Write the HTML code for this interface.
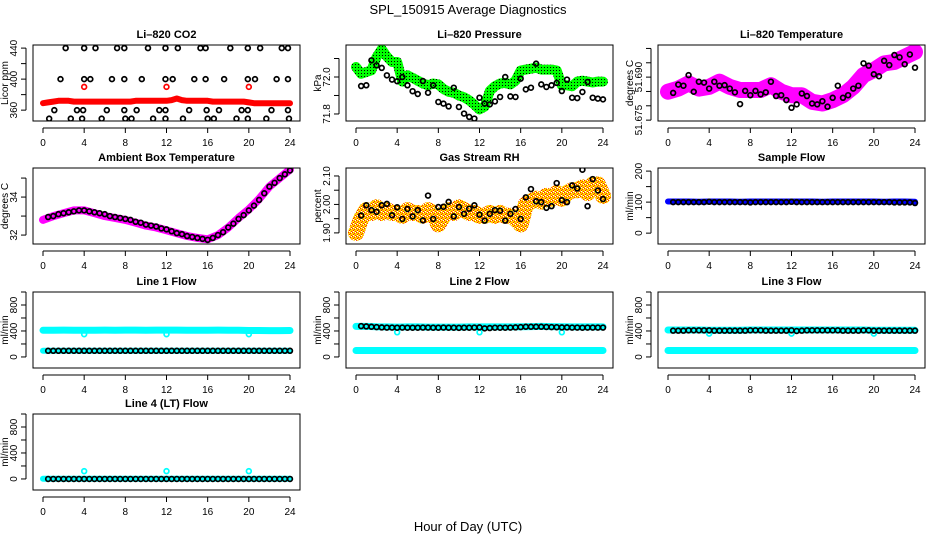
<!DOCTYPE html>
<html><head><meta charset="utf-8"><style>
html,body{margin:0;padding:0;background:#fff;}
svg{display:block;font-family:"Liberation Sans",sans-serif;}
</style></head><body>
<svg id="chart" width="936" height="540" viewBox="0 0 936 540">
<defs>
<pattern id="greenPat" width="3" height="3" patternUnits="userSpaceOnUse"><rect width="3" height="3" fill="#00ff00"/><rect x="1" y="1" width="1" height="1" fill="#000"/></pattern>
<pattern id="orangePat" width="4" height="4" patternUnits="userSpaceOnUse"><rect width="4" height="4" fill="#ffd400"/><rect x="0" y="0" width="1" height="1" fill="#ff2200"/><rect x="2" y="1" width="1" height="1" fill="#ff3300"/><rect x="1" y="2" width="1" height="1" fill="#ff2200"/><rect x="3" y="3" width="1" height="1" fill="#ff3300"/><rect x="3" y="0" width="1" height="1" fill="#ffffff"/><rect x="1" y="3" width="1" height="1" fill="#ffffff"/></pattern>
</defs>
<text x="468" y="14" text-anchor="middle" font-size="13">SPL_150915  Average Diagnostics</text>
<text x="468" y="531" text-anchor="middle" font-size="13">Hour of Day (UTC)</text>
</svg>
<script>
// ---------- data ----------
const xTicks = [0,4,8,12,16,20,24];
const xTickLabels = ["0","4","8","12","16","20","24"];
// CO2
const co2RedHours = [0,0.5,1,1.5,2,2.5,3,3.5,4,4.5,5,5.5,6,6.5,7,7.5,8,8.5,9,9.5,10,10.5,11,11.5,12,12.5,13,13.5,14,14.5,15,15.5,16,16.5,17,17.5,18,18.5,19,19.5,20,20.5,21,21.5,22,22.5,23,23.5,24];
const co2Red = [369,370,371,372,372,372,371,371,371,371,371,371,371,371,371,371,371,371,372,372,372,372,372,372,372,373,375,373,372,372,372,372,372,371,371,371,371,371,371,371,370,369,369,369,369,369,369,369,369];
const co2RedOutX = [4,12,20];
const co2RedOutY = [390,390,390];
const co2BlackX = [2.2,4.0,5.1,7.2,7.9,10.2,11.9,13.1,15.3,15.8,18.2,19.9,21.1,23.2,23.8, 1.7,4.0,4.6,6.7,7.9,9.6,11.9,12.6,14.7,15.8,17.6,19.9,20.6,22.7,23.8, 1.1,3.3,3.9,6.2,7.9,9.1,11.3,11.9,14.2,15.9,17.1,19.3,19.9,22.2,23.8, 0.6,2.7,3.8,5.7,8.0,8.6,10.7,11.9,13.6,16.0,16.6,18.8,19.9,21.7,23.9];
const co2BlackY = [440,440,440,440,440,440,440,440,440,440,440,440,440,440,440, 400,400,400,400,400,400,400,400,400,400,400,400,400,400,400, 360,360,360,360,360,360,360,360,360,360,360,360,360,360,360, 349,349,349,349,349,349,349,349,349,349,349,349,349,349,349];
// Pressure
const presGreen = [72.054,72.018,72.027,72.036,72.108,72.150,72.110,72.081,72.081,71.975,72.009,71.995,71.980,71.965,71.955,71.965,71.960,71.935,71.920,71.915,71.900,71.890,71.874,71.850,71.825,71.840,71.925,71.950,71.965,71.968,71.960,71.980,72.035,72.040,72.045,72.050,72.040,72.040,72.040,72.035,71.955,71.955,71.950,71.975,71.980,71.975,71.970,71.975,71.975];
const presBlack = [71.951,71.955,72.090,72.063,72.049,72.009,71.986,71.977,72.000,71.955,71.923,71.908,71.978,71.915,71.955,71.865,71.856,71.841,71.942,71.838,71.802,71.784,71.775,71.888,71.856,71.852,71.868,71.892,72.000,71.895,71.892,71.991,71.933,71.942,72.072,71.960,71.946,71.955,71.968,71.924,71.986,71.888,71.886,71.919,71.973,71.888,71.883,71.879];
// Li-820 temperature
const tempBand = [51.6849,51.6860,51.6878,51.6860,51.6866,51.6884,51.6866,51.6855,51.6855,51.6855,51.6872,51.6849,51.6837,51.6837,51.6814,51.6808,51.6820,51.6837,51.6866,51.6907,51.6924,51.6948,51.6953,51.6971,51.6988];
const tempBlack = [51.6845,51.6874,51.6870,51.6907,51.6849,51.6884,51.6881,51.6860,51.6884,51.6870,51.6872,51.6860,51.6847,51.6806,51.6852,51.6837,51.6852,51.6840,51.6847,51.6884,51.6834,51.6837,51.6820,51.6793,51.6805,51.6843,51.6834,51.6808,51.6805,51.6816,51.6797,51.6828,51.6870,51.6828,51.6837,51.6860,51.6870,51.6948,51.6940,51.6910,51.6903,51.6957,51.6942,51.6977,51.6969,51.6945,51.6979,51.6933];
// Ambient box temperature
const ambBand = [32.8,33.0,33.15,33.3,33.3,33.15,33.0,32.9,32.8,32.65,32.5,32.4,32.25,32.1,31.95,31.85,31.78,32.0,32.4,32.9,33.35,33.9,34.55,35.0,35.45];
const ambBlack = [32.95,33.0,33.1,33.15,33.2,33.25,33.3,33.3,33.25,33.2,33.15,33.1,33.0,32.95,32.9,32.85,32.8,32.7,32.65,32.55,32.5,32.45,32.35,32.3,32.2,32.1,32.05,31.95,31.9,31.85,31.8,31.75,31.85,32.0,32.15,32.4,32.6,32.85,33.05,33.3,33.55,33.85,34.2,34.55,34.75,35.0,35.2,35.4];
// Gas stream RH
const rhBand = [1.90,1.95,1.98,1.97,1.99,1.97,1.98,1.97,1.97,1.96,1.98,1.97,1.97,1.96,1.98,1.97,1.93,1.96,1.98,1.97,1.99,1.98,1.97,1.97,1.96,1.96,1.97,1.96,1.97,1.96,1.96,1.95,1.93,2.00,2.01,2.02,2.01,2.03,2.02,2.04,2.02,2.04,2.05,2.05,2.06,2.04,2.07,2.07,2.03];
const rhBlack = [1.961,1.997,1.980,1.974,1.997,2.002,1.962,1.990,1.949,1.984,1.958,1.980,1.944,2.031,1.949,1.991,1.992,2.009,1.958,1.991,1.967,1.985,1.997,1.964,1.943,1.967,1.980,1.978,1.943,1.967,1.984,1.949,2.025,2.054,2.011,2.008,1.988,1.994,2.075,2.015,2.008,2.067,2.056,2.122,1.994,2.089,2.049,2.019];
// Sample flow
const sampleBand = [102,102,102,101,102,102,102,101,102,102,102,102,102,102,102,101,102,102,102,102,102,101,102,102,101];
const sampleBlack = [100,100,100,100,100,100,100,101,100,100,100,100,100,100,100,99,100,100,100,100,100,100,100,101,100,100,100,100,100,100,100,100,100,100,100,100,100,100,100,100,100,100,100,99,99,99,99,97];
// Line flows
const line1High = [410,412,413,412,410,412,413,412,414,413,412,413,414,413,412,411,412,413,412,410,408,407,406,406,407];
const line1Low = [95,95,95,95,95,95,95,95,95,95,95,95,95,95,95,95,95,95,95,95,95,95,95,95,95];
const line1Black = [95,95,95,95,95,95,95,95,95,95,95,95,95,95,95,95,95,95,95,95,95,95,95,95,95,95,95,95,95,95,95,95,95,95,95,95,95,95,95,95,95,95,95,95,95,95,95,95];
const line1OutY = [350,350,350];
const line2High = [470,470,465,462,460,462,462,460,460,460,460,462,462,462,462,462,465,468,470,468,465,462,462,462,462];
const line2Low = [100,100,100,100,100,100,100,100,100,100,100,100,100,100,100,100,100,100,100,100,100,100,100,100,100];
const line2Black = [475,470,465,460,455,452,452,450,452,450,450,450,452,452,450,450,452,450,450,448,450,450,452,455,440,445,450,450,450,452,455,460,465,465,465,465,462,460,458,455,455,452,452,450,452,452,452,452];
const line2OutY = [380,380,380];
const line3High = [415,415,415,415,412,412,412,412,415,415,415,415,415,415,415,415,415,415,415,415,412,412,410,410,410];
const line3Low = [100,100,100,100,100,100,100,100,100,100,100,100,100,100,100,100,100,100,100,100,100,100,100,100,100];
const line3Black = [405,405,405,410,410,410,410,410,405,405,405,405,405,405,405,410,410,410,405,405,405,405,405,410,400,405,410,410,410,410,410,410,410,405,405,405,405,410,410,405,405,405,405,405,405,405,405,405];
const line3OutY = [360,360,360];
const line4Band = [2,2,2,2,2,2,2,2,2,2,2,2,2,2,2,2,2,2,2,2,2,2,2,2,2];
const line4Black = [0,0,0,0,0,0,0,0,0,0,0,0,0,0,0,0,0,0,0,0,0,0,0,0,0,0,0,0,0,0,0,0,0,0,0,0,0,0,0,0,0,0,0,0,0,0,0,0];
const line4OutY = [120,120,120];
const outHours = [4,12,20];
const flowTicks = [0,200,400,600,800,1000];
const flowTickLabels = ["0","","400","","800",""];

// ---------- layout ----------
const NS = "http://www.w3.org/2000/svg";
const svg = document.getElementById("chart");
const colLeft = [33,346,658];
const rowTop = [45,168,292,414];
const BW = 267, BH = 76;
function mk(tag, attrs, parent){const e=document.createElementNS(NS,tag);for(const k in attrs)e.setAttribute(k,attrs[k]);(parent||svg).appendChild(e);return e;}
function hourly(n){const a=[];for(let i=0;i<n;i++)a.push(i*24/(n-1));return a;}
function halfHours(n){const a=[];for(let i=0;i<n;i++)a.push((i+1)*0.5);return a;}

function makePanel(cfg){
  const g = mk("g",{});
  
  
  const L = colLeft[cfg.col], T = rowTop[cfg.row];
  const xS = h => L + 10 + h*(247/24);
  const yS = v => T + (cfg.ymax - v)/(cfg.ymax - cfg.ymin)*BH;
  const clipId = "clip-"+cfg.name;
  const cp = mk("clipPath",{id:clipId},g); mk("rect",{x:L,y:T,width:BW,height:BH},cp);
  const plot = mk("g",{"clip-path":"url(#"+clipId+")"},g);
  
  
  const t = mk("text",{x:L+BW/2,y:T-7,"text-anchor":"middle","font-size":"11","font-weight":"bold"},g);
  t.textContent = cfg.title;
  
  
  const box = mk("rect",{x:L,y:T,width:BW,height:BH,fill:"none",stroke:"#000","stroke-width":"1"},g);
  
  
  const xa = mk("g",{},g);
  
  
  mk("line",{x1:xS(xTicks[0]),x2:xS(xTicks[xTicks.length-1]),y1:T+BH+7,y2:T+BH+7,stroke:"#000"},xa);
  xTicks.forEach((h,i)=>{
    mk("line",{x1:xS(h),x2:xS(h),y1:T+BH+7,y2:T+BH+12,stroke:"#000"},xa);
    const tl = mk("text",{x:xS(h),y:T+BH+25,"text-anchor":"middle","font-size":"10"},xa);
    tl.textContent = xTickLabels[i];
    
    
  });
  const ya = mk("g",{},g);
  
  
  const ax = L-7;
  mk("line",{x1:ax,x2:ax,y1:yS(cfg.yticks[0]),y2:yS(cfg.yticks[cfg.yticks.length-1]),stroke:"#000"},ya);
  cfg.yticks.forEach((v,i)=>{
    const y = yS(v);
    mk("line",{x1:ax-5,x2:ax,y1:y,y2:y,stroke:"#000"},ya);
    if(cfg.ylabels[i]){
      const tl = mk("text",{x:0,y:0,transform:"translate("+(ax-9)+","+y+") rotate(-90)","text-anchor":"middle","font-size":"10"},ya);
      tl.textContent = cfg.ylabels[i];
      
      
    }
  });
  const yl = mk("text",{x:0,y:0,transform:"translate("+(L-25)+","+(T+BH/2)+") rotate(-90)","text-anchor":"middle","font-size":"10"},g);
  yl.textContent = cfg.ylab;
  
  

  function band(xs, ys, color, w, nm){
    const pts = xs.map((h,i)=>xS(h).toFixed(1)+","+yS(ys[i]).toFixed(1)).join(" ");
    const p = mk("polyline",{points:pts,fill:"none",stroke:color,"stroke-width":w,"stroke-linejoin":"round","stroke-linecap":"round"},plot);
    
    
  }
  function pts(xs, ys, color, nm, r){
    xs.forEach((h,i)=>{
      const c = mk("circle",{cx:xS(h),cy:yS(ys[i]),r:r||2.4,fill:"none",stroke:color,"stroke-width":"1.7"},plot);
      
      
    });
  }
  cfg.draw(band, pts);
}

makePanel({name:"co2-panel",title:"Li\u2013820 CO2",ylab:"Licor ppm",col:0,row:0,ymin:346,ymax:444,
  yticks:[360,380,400,420,440],ylabels:["360","","400","","440"],
  draw:(band,pts)=>{band(co2RedHours,co2Red,"#ff0000",6,"co2-series-band");pts(co2RedOutX,co2RedOutY,"#ff0000","co2-outlier-point");pts(co2BlackX,co2BlackY,"#000","co2-point");}});
makePanel({name:"pressure-panel",title:"Li\u2013820 Pressure",ylab:"kPa",col:1,row:0,ymin:71.762,ymax:72.173,
  yticks:[71.8,71.9,72.0,72.1],ylabels:["71.8","","72.0",""],
  draw:(band,pts)=>{band(hourly(49),presGreen,"url(#greenPat)",10,"pressure-series-band");pts(halfHours(48),presBlack,"#000","pressure-point");}});
makePanel({name:"temperature-panel",title:"Li\u2013820 Temperature",ylab:"degrees C",col:2,row:0,ymin:51.6747,ymax:51.7012,
  yticks:[51.675,51.680,51.685,51.690,51.695,51.700],ylabels:["51.675","","","51.690","",""],
  draw:(band,pts)=>{band(hourly(25),tempBand,"#ff00ff",16,"temperature-series-band");pts(halfHours(48),tempBlack,"#000","temperature-point");}});
makePanel({name:"ambient-panel",title:"Ambient Box Temperature",ylab:"degrees C",col:0,row:1,ymin:31.53,ymax:35.53,
  yticks:[32,33,34,35],ylabels:["32","","34",""],
  draw:(band,pts)=>{band(hourly(25),ambBand,"#ff00ff",8,"ambient-series-band");pts(halfHours(48),ambBlack,"#000","ambient-point");}});
makePanel({name:"rh-panel",title:"Gas Stream RH",ylab:"percent",col:1,row:1,ymin:1.861,ymax:2.128,
  yticks:[1.90,1.95,2.00,2.05,2.10],ylabels:["1.90","","2.00","","2.10"],
  draw:(band,pts)=>{band(hourly(49),rhBand,"url(#orangePat)",16,"rh-series-band");pts(halfHours(48),rhBlack,"#000","rh-point");}});
makePanel({name:"sample-flow-panel",title:"Sample Flow",ylab:"ml/min",col:2,row:1,ymin:-35,ymax:210,
  yticks:[0,50,100,150,200],ylabels:["0","","100","","200"],
  draw:(band,pts)=>{band(hourly(25),sampleBand,"#0000ff",6,"sample-flow-band");pts(halfHours(48),sampleBlack,"#000","sample-flow-point");}});
makePanel({name:"line1-flow-panel",title:"Line 1 Flow",ylab:"ml/min",col:0,row:2,ymin:-170,ymax:1000,
  yticks:flowTicks,ylabels:flowTickLabels,
  draw:(band,pts)=>{band(hourly(25),line1High,"#00ffff",7,"line1-high-band");band(hourly(25),line1Low,"#00ffff",6,"line1-low-band");pts(outHours,line1OutY,"#00ffff","line1-outlier");pts(halfHours(48),line1Black,"#000","line1-point");}});
makePanel({name:"line2-flow-panel",title:"Line 2 Flow",ylab:"ml/min",col:1,row:2,ymin:-170,ymax:1000,
  yticks:flowTicks,ylabels:flowTickLabels,
  draw:(band,pts)=>{band(hourly(25),line2High,"#00ffff",7,"line2-high-band");band(hourly(25),line2Low,"#00ffff",7,"line2-low-band");pts(outHours,line2OutY,"#00ffff","line2-outlier");pts(halfHours(48),line2Black,"#000","line2-point");}});
makePanel({name:"line3-flow-panel",title:"Line 3 Flow",ylab:"ml/min",col:2,row:2,ymin:-170,ymax:1000,
  yticks:flowTicks,ylabels:flowTickLabels,
  draw:(band,pts)=>{band(hourly(25),line3High,"#00ffff",7,"line3-high-band");band(hourly(25),line3Low,"#00ffff",7,"line3-low-band");pts(outHours,line3OutY,"#00ffff","line3-outlier");pts(halfHours(48),line3Black,"#000","line3-point");}});
makePanel({name:"line4-flow-panel",title:"Line 4 (LT) Flow",ylab:"ml/min",col:0,row:3,ymin:-170,ymax:1000,
  yticks:flowTicks,ylabels:flowTickLabels,
  draw:(band,pts)=>{band(hourly(25),line4Band,"#00ffff",6,"line4-band");pts(outHours,line4OutY,"#00ffff","line4-outlier");pts(halfHours(48),line4Black,"#000","line4-point");}});
</script>
</body></html>
